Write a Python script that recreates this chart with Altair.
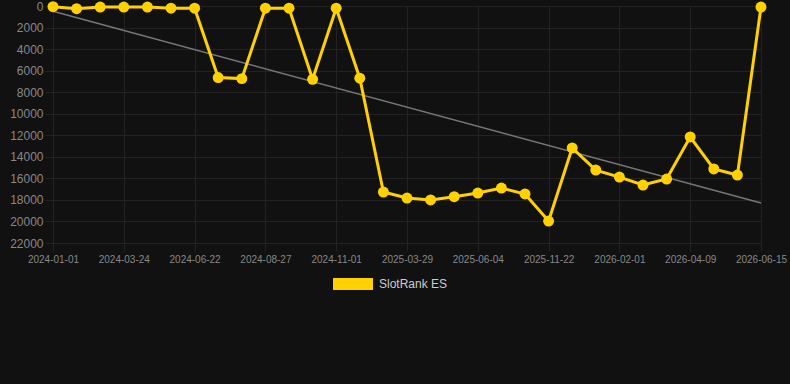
import altair as alt
import pandas as pd

# Category index of each point (category x axis, 31 points)
idx = list(range(31))
# Rank values
values = [65, 250, 100, 100, 100, 200, 200, 6640, 6740, 200, 200, 6800, 200, 6700,
          17270, 17830, 18000, 17700, 17360, 16900, 17450, 19960, 13180, 15230,
          15880, 16620, 16060, 12160, 15130, 15690, 100]
# Tick labels shown on x axis (every 3rd category)
tick_labels = ["2024-01-01", "2024-03-24", "2024-06-22", "2024-08-27", "2024-11-01",
               "2025-03-29", "2025-06-04", "2025-11-22", "2026-02-01", "2026-04-09",
               "2026-06-15"]
y_ticks = list(range(0, 22001, 2000))
series = "SlotRank ES"

df = pd.DataFrame({"idx": idx, "value": values, "series": [series] * len(idx)})

label_expr = "[" + ",".join("'%s'" % t for t in tick_labels) + "][round(datum.value / 3)]"

x_enc = alt.X("idx:Q",
              scale=alt.Scale(domain=[0, 30], nice=False, zero=False),
              axis=alt.Axis(values=list(range(0, 31, 3)), labelExpr=label_expr,
                            title=None, labelFontSize=10, labelColor="#888888",
                            gridColor="#222222", tickColor="#222222", tickSize=8,
                            labelPadding=3, domain=False, labelFont="Liberation Sans",
                            labelOverlap=False, labelFlush=False))
y_enc = alt.Y("value:Q",
              scale=alt.Scale(domain=[0, 22000], reverse=True, nice=False),
              axis=alt.Axis(values=y_ticks, title=None, labelFontSize=12, format="d",
                            labelColor="#888888", gridColor="#222222",
                            tickColor="#222222", tickSize=8, labelPadding=2,
                            domain=False, labelFont="Liberation Sans",
                            labelOverlap=False, labelFlush=False))

base = alt.Chart(df)

trend = base.transform_regression("idx", "value").mark_line(
    color="#777777", strokeWidth=1.5
).encode(x=x_enc, y=y_enc)

line = base.mark_line(
    strokeWidth=3,
    point=alt.OverlayMarkDef(filled=True, size=120, opacity=1),
).encode(
    x=x_enc,
    y=y_enc,
    color=alt.Color("series:N",
                    scale=alt.Scale(domain=[series], range=["#FFD100"]),
                    legend=alt.Legend(
                        title=None, orient="none", legendX=280, legendY=258,
                        symbolType="M-1,-0.3L1,-0.3L1,0.3L-1,0.3Z",
                        symbolSize=1600, symbolStrokeWidth=0,
                        labelFontSize=12, labelColor="#cccccc",
                        labelFont="Liberation Sans", labelOffset=6, padding=0)),
)

chart = alt.layer(trend, line).properties(
    width=708, height=237,
    background="#111111",
    padding={"left": 53, "top": 6, "right": 29, "bottom": 141},
    autosize=alt.AutoSizeParams(type="none"),
).configure_view(stroke=None)

chart.save("out.html", embed_options={"renderer": "svg", "actions": False})
